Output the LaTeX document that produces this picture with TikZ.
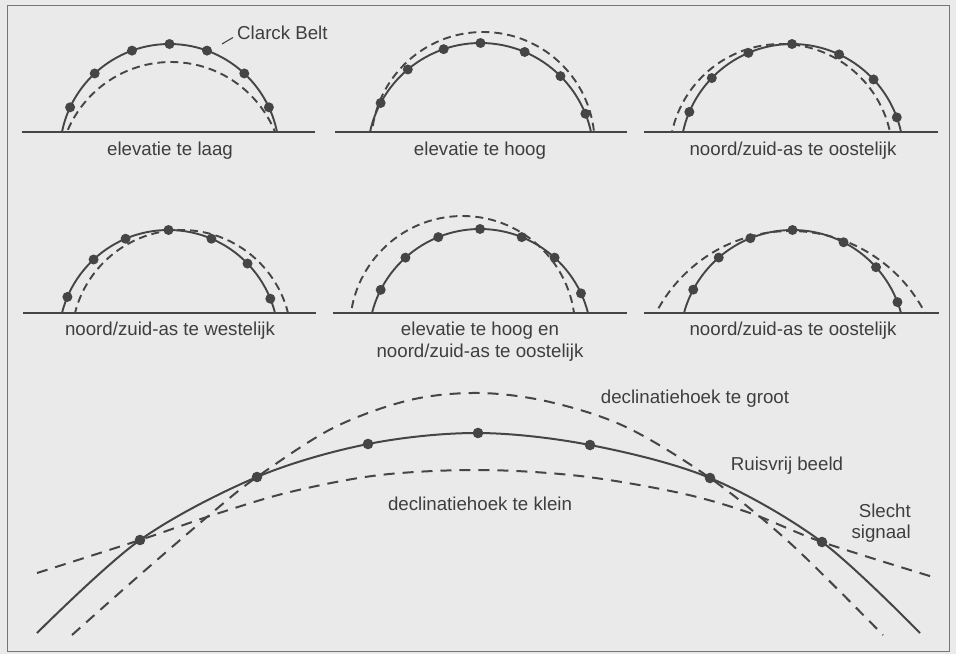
\documentclass[tikz,border=0pt]{standalone}
\usepackage{fontspec}
\setmainfont{Liberation Sans}
\definecolor{bgc}{HTML}{EAEAEA}
\definecolor{inkc}{HTML}{454545}
\definecolor{txtc}{HTML}{3E3E3E}
\definecolor{framec}{HTML}{767676}
\newcommand{\SegArc}[5]{%
  \pgfmathsetmacro{\sgHW}{(#2-#1)/2}%
  \pgfmathsetmacro{\sgH}{#3-#4}%
  \pgfmathsetmacro{\sgR}{\sgHW*(\sgHW/(2*\sgH))+\sgH/2}%
  \pgfmathsetmacro{\sgCX}{(#1+#2)/2}%
  \pgfmathsetmacro{\sgCY}{#4+\sgR}%
  \begin{scope}
    \clip (#1-8,#4-8) rectangle (#2+8,#3);
    \draw[#5] (\sgCX,\sgCY) circle[radius=\sgR pt];
  \end{scope}}
\newcommand{\SegDots}[1]{%
  \foreach \sgA in {#1} {%
    \pgfmathsetmacro{\sgPX}{\sgCX+\sgR*cos(\sgA)}%
    \pgfmathsetmacro{\sgPY}{\sgCY+\sgR*sin(\sgA)}%
    \fill[dotc] (\sgPX,\sgPY) circle[radius=5pt];}}
\begin{document}
\begin{tikzpicture}[x=1pt,y=-1pt,
  solidarc/.style={draw=inkc, line width=1.9pt},
  dasharc/.style={draw=inkc, line width=1.9pt, dash pattern=on 8pt off 5pt},
  baseln/.style={draw=inkc, line width=2pt},
  dotc/.style={fill=inkc},
  lbl/.style={text=txtc, font=\fontsize{18.7}{22}\selectfont, inner sep=0pt, anchor=base},
  bigsolid/.style={draw=inkc, line width=2pt},
  bigdash/.style={draw=inkc, line width=2pt, dash pattern=on 11pt off 8pt}]
\fill[bgc] (0,0) rectangle (956,654);
\useasboundingbox (0,0) rectangle (956,654);
\draw[framec, line width=0.8pt] (7.5,5.5) rectangle (949,651);

% panel 1
\SegArc{67}{275}{132}{62}{dasharc}
\SegArc{62}{277}{132}{44}{solidarc}
\SegDots{-155,-133,-110,-90,-70,-47,-25}
\draw[baseln] (22,132) -- (315,132);
% panel 2
\SegArc{372}{594}{132}{32}{dasharc}
\SegArc{370}{591}{132}{43}{solidarc}
\SegDots{-152,-130,-109,-90,-67,-45,-22}
\draw[baseln] (335,132) -- (627,132);
% panel 3
\SegArc{672}{890}{132}{44}{dasharc}
\SegArc{683}{901}{132}{44}{solidarc}
\SegDots{-157,-136,-113,-90,-65,-43,-20}
\draw[baseln] (644,132) -- (938,132);
% panel 4
\SegArc{75}{288}{313}{230}{dasharc}
\SegArc{62}{275}{313}{230}{solidarc}
\SegDots{-157,-133,-113,-90,-67,-44,-22}
\draw[baseln] (23,313) -- (316,313);
% panel 5
\SegArc{351}{574}{313}{216}{dasharc}
\SegArc{372}{588}{313}{229}{solidarc}
\SegDots{-153,-132,-112,-90,-68,-48,-25}
\draw[baseln] (333,313) -- (627,313);
% panel 6
\SegArc{656}{925}{313}{231}{dasharc}
\SegArc{684}{901}{313}{230}{solidarc}
\SegDots{-152,-131,-112,-90,-63,-42,-21}
\draw[baseln] (644,313) -- (939,313);

% labels
\node[lbl, anchor=base west] (cb) at (237,39) {Clarck Belt};
\coordinate (cbtip) at (222,44);
\draw[inkc, line width=1.1pt] (cbtip) -- ([shift={(-4,-1.5)}]cb.base west);
\node[lbl] (t1) at (170,155) {elevatie te laag};
\node[lbl] (t2) at (480,155) {elevatie te hoog};
\node[lbl] (t3) at (793,155) {noord/zuid-as te oostelijk};
\node[lbl] (t4) at (170,335) {noord/zuid-as te westelijk};
\node[lbl] (t5) at (480,335) {elevatie te hoog en};
\node[lbl] (t5b) at (480,357) {noord/zuid-as te oostelijk};
\node[lbl] (t6) at (793,335) {noord/zuid-as te oostelijk};

% bottom panel
\coordinate (e1) at (37,633);
\coordinate (d1) at (140,540);
\coordinate (d2) at (257,477);
\coordinate (d3) at (368,444);
\coordinate (d4) at (478,433);
\coordinate (d5) at (590,445);
\coordinate (d6) at (710,478);
\coordinate (d7) at (822,542);
\coordinate (e2) at (920,633);
\draw[bigdash] plot[smooth, tension=0.55] coordinates {(72,635) (142,573) (213,512) (d2) (333,428) (410,400) (480,393) (550,402) (626,427) (d6) (790,543) (883,635)};
\draw[bigdash] plot[smooth, tension=0.55] coordinates {(37,573) (d1) (213,515) (290,492) (380,475) (480,470) (580,476) (680,493) (750,513) (d7) (933,577)};
\draw[bigsolid] plot[smooth, tension=0.55] coordinates {(e1) (d1) (d2) (d3) (d4) (d5) (d6) (d7) (e2)};
\foreach \p in {d1,d2,d3,d4,d5,d6,d7} {\fill[dotc] (\p) circle[radius=5.3pt];}

\node[lbl] (tg) at (695,403) {declinatiehoek te groot};
\node[lbl] (tk) at (480,510) {declinatiehoek te klein};
\node[lbl] (tr) at (787,470) {Ruisvrij beeld};
\node[lbl, anchor=base east] (ts1) at (911,517) {Slecht};
\node[lbl, anchor=base east] (ts2) at (911,538) {signaal};
\end{tikzpicture}
\end{document}
